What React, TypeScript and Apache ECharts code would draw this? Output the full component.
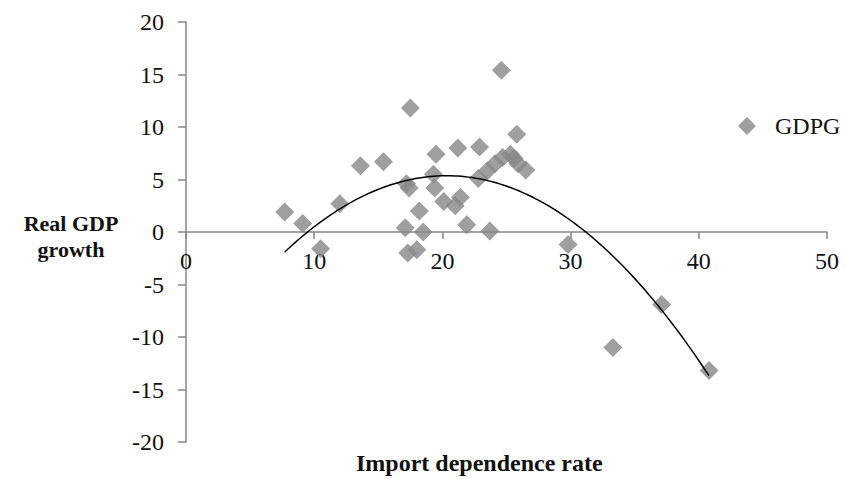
import React, { useEffect, useRef } from "react";
import * as echarts from "echarts";

// Import dependence rate (x) vs Real GDP growth (y)
const importRate: number[] = [
  7.7, 9.1, 10.5, 12.0, 13.6, 15.4, 17.5, 24.6, 19.5, 21.2, 22.9, 25.8,
  17.2, 17.4, 19.3, 19.4, 20.1, 21.0, 21.4, 18.2, 17.1, 18.5, 17.3, 18.0,
  21.9, 23.7, 22.8, 23.5, 24.1, 24.7, 25.3, 25.6, 25.9, 26.5, 29.8, 37.1,
  33.3, 40.8,
];
const gdpGrowth: number[] = [
  1.9, 0.8, -1.6, 2.7, 6.3, 6.7, 11.8, 15.4, 7.4, 8.0, 8.1, 9.3,
  4.6, 4.2, 5.5, 4.2, 2.9, 2.5, 3.3, 2.0, 0.4, 0.0, -2.0, -1.7,
  0.7, 0.1, 5.1, 5.8, 6.5, 7.1, 7.4, 7.0, 6.5, 5.9, -1.2, -6.9,
  -11.0, -13.2,
];
const xTicks = { min: 0, max: 50, interval: 10 };
const yTicks = { min: -20, max: 20, interval: 5 };
const seriesName = "GDPG";
const xTitle = "Import dependence rate";
const yTitle = "Real GDP\ngrowth";

// Polynomial (order 2) least-squares trendline, as in the spreadsheet
function quadFit(xs: number[], ys: number[]): [number, number, number] {
  let s0 = 0, s1 = 0, s2 = 0, s3 = 0, s4 = 0, t0 = 0, t1 = 0, t2 = 0;
  for (let i = 0; i < xs.length; i++) {
    const x = xs[i], y = ys[i];
    s0 += 1; s1 += x; s2 += x * x; s3 += x * x * x; s4 += x * x * x * x;
    t0 += y; t1 += x * y; t2 += x * x * y;
  }
  const M = [
    [s0, s1, s2, t0],
    [s1, s2, s3, t1],
    [s2, s3, s4, t2],
  ];
  for (let c = 0; c < 3; c++) {
    let p = c;
    for (let r = c + 1; r < 3; r++) if (Math.abs(M[r][c]) > Math.abs(M[p][c])) p = r;
    [M[c], M[p]] = [M[p], M[c]];
    for (let r = 0; r < 3; r++) {
      if (r === c) continue;
      const f = M[r][c] / M[c][c];
      for (let k = c; k < 4; k++) M[r][k] -= f * M[c][k];
    }
  }
  return [M[0][3] / M[0][0], M[1][3] / M[1][1], M[2][3] / M[2][2]];
}

export default function App() {
  const ref = useRef<HTMLDivElement>(null);
  useEffect(() => {
    if (!ref.current) return;
    const chart = echarts.init(ref.current, null, { renderer: "svg" });
    const font = "'Liberation Serif', 'Times New Roman', serif";
    const points = importRate.map((x, i) => [x, gdpGrowth[i]]);
    const [c0, c1, c2] = quadFit(importRate, gdpGrowth);
    const xMin = Math.min(...importRate);
    const xMax = Math.max(...importRate);
    const trend: number[][] = [];
    const n = 120;
    for (let i = 0; i <= n; i++) {
      const x = xMin + ((xMax - xMin) * i) / n;
      trend.push([x, c0 + c1 * x + c2 * x * x]);
    }
    const axisColor = "#868686";
    const gridTop = 22;
    const gridBottom = 37;
    const gridHeight = 479 - gridTop - gridBottom;
    // distance of the value 0 above the bottom of the plot
    const zeroOffset = (gridHeight * (0 - yTicks.min)) / (yTicks.max - yTicks.min);
    chart.setOption({
      animation: false,
      backgroundColor: "#ffffff",
      textStyle: { fontFamily: font },
      grid: { left: 186, right: 20, top: gridTop, bottom: gridBottom, containLabel: false },
      legend: {
        data: [{ name: seriesName, icon: "diamond" }],
        left: 733,
        top: 109,
        itemWidth: 18,
        itemHeight: 18,
        textStyle: {
          fontFamily: font,
          fontSize: 24,
          color: "#111111",
          padding: [0, 0, 0, 14],
        },
      },
      xAxis: {
        type: "value",
        min: xTicks.min,
        max: xTicks.max,
        interval: xTicks.interval,
        position: "bottom",
        offset: -zeroOffset,
        splitLine: { show: false },
        axisLine: { onZero: false, lineStyle: { color: axisColor, width: 1.5 } },
        axisTick: { show: true, length: 7, lineStyle: { color: axisColor, width: 1.5 } },
        axisLabel: { fontFamily: font, fontSize: 24, color: "#111111", margin: 17 },
      },
      yAxis: {
        type: "value",
        min: yTicks.min,
        max: yTicks.max,
        interval: yTicks.interval,
        splitLine: { show: false },
        axisLine: { show: true, onZero: false, lineStyle: { color: axisColor, width: 1.5 } },
        axisTick: { show: true, length: 8, lineStyle: { color: axisColor, width: 1.5 } },
        axisLabel: { fontFamily: font, fontSize: 24, color: "#111111", margin: 22 },
      },
      graphic: [
        {
          type: "text",
          left: 506 - 150,
          top: 451,
          style: {
            text: xTitle,
            width: 300,
            align: "center",
            fontFamily: font,
            fontSize: 24,
            fontWeight: "bold",
            fill: "#111111",
          },
        },
        {
          type: "text",
          x: 71,
          y: 210,
          style: {
            text: yTitle,
            align: "center",
            verticalAlign: "top",
            fontFamily: font,
            fontSize: 22,
            lineHeight: 26,
            fontWeight: "bold",
            fill: "#111111",
          },
        },
      ],
      series: [
        {
          name: seriesName,
          type: "scatter",
          symbol: "diamond",
          symbolSize: 19,
          itemStyle: { color: "#878787" },
          data: points,
          z: 2,
        },
        {
          name: "trend",
          type: "line",
          data: trend,
          showSymbol: false,
          symbol: "none",
          smooth: false,
          lineStyle: { color: "#000000", width: 1.5 },
          z: 3,
          silent: true,
        },
      ],
    });
    return () => chart.dispose();
  }, []);
  return (
    <div
      ref={ref}
      style={{ position: "absolute", left: 0, top: 0, width: 847, height: 479 }}
    />
  );
}
